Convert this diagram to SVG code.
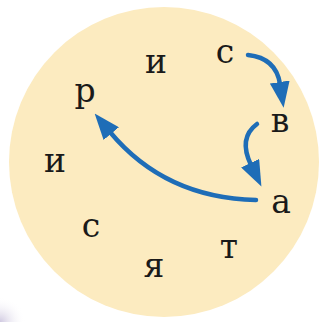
<svg xmlns="http://www.w3.org/2000/svg" width="323" height="322" viewBox="0 0 323 322">
<defs>
<marker id="ah" markerUnits="userSpaceOnUse" markerWidth="26" markerHeight="20" refX="2" refY="10" orient="auto">
<path d="M0,0 L26,10 L0,20 Z" fill="#1E6DB7"/>
</marker>
<radialGradient id="sh" cx="0" cy="1" r="0.35">
<stop offset="0" stop-color="#CFC8E0"/>
<stop offset="1" stop-color="#FFFFFF" stop-opacity="0"/>
</radialGradient>
</defs>
<style>
.l{font-family:"DejaVu Serif","Liberation Serif",serif;font-size:33px;fill:#1A1A1A;text-anchor:middle}
.c{fill:none;stroke:#1E6DB7;stroke-width:4.5;stroke-linecap:round}
</style>
<rect width="323" height="322" fill="#FFFFFF"/>
<rect x="0" y="250" width="72" height="72" fill="url(#sh)"/>
<circle cx="164" cy="162" r="155" fill="#FCEBC0"/>
<g id="connectors">
<path class="c" d="M248,55 Q276,58 280,84" marker-end="url(#ah)"/>
<path class="c" d="M257,124 Q238,138 251,165" marker-end="url(#ah)"/>
<path class="c" d="M256,200 Q165,198 110,132" marker-end="url(#ah)"/>
</g>
<g id="n-s1"><text class="l" x="225" y="63">с</text></g>
<g id="n-i1"><text class="l" x="156" y="73">и</text></g>
<g id="n-r"><text class="l" x="85" y="102">р</text></g>
<g id="n-v"><text class="l" x="280" y="132">в</text></g>
<g id="n-i2"><text class="l" x="55" y="172">и</text></g>
<g id="n-a"><text class="l" x="281" y="213">а</text></g>
<g id="n-s2"><text class="l" x="91" y="237">с</text></g>
<g id="n-t"><text class="l" x="229" y="258">т</text></g>
<g id="n-ya"><text class="l" x="154" y="277">я</text></g>
</svg>
